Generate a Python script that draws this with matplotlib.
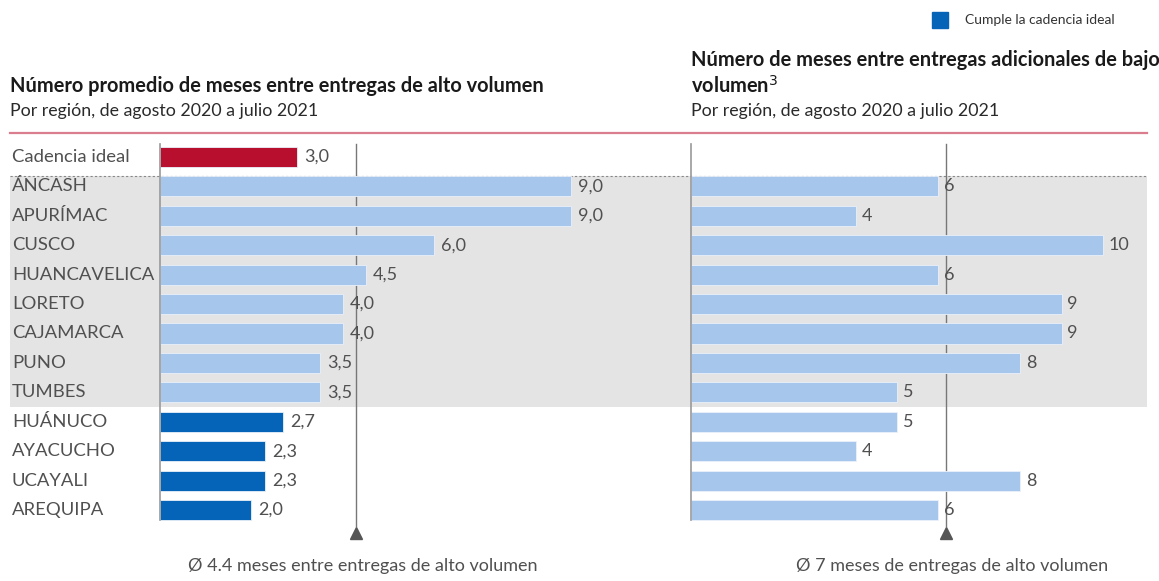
import matplotlib.pyplot as plt
from matplotlib import transforms

plt.rcParams['font.family'] = ['Lato', 'DejaVu Sans']

# data
regions = ["Cadencia ideal", "ÁNCASH", "APURÍMAC", "CUSCO", "HUANCAVELICA", "LORETO",
           "CAJAMARCA", "PUNO", "TUMBES", "HUÁNUCO", "AYACUCHO", "UCAYALI", "AREQUIPA"]
alto_volumen = [3.0, 9.0, 9.0, 6.0, 4.5, 4.0, 4.0, 3.5, 3.5, 2.7, 2.3, 2.3, 2.0]
bajo_volumen = [None, 6, 4, 10, 6, 9, 9, 8, 5, 5, 4, 8, 6]
grupo = ["ideal"] + ["no"] * 8 + ["cumple"] * 4
mean_pos = [4.3, 6.2]   # where the avg line sits in the picture
mean_labels = ["Ø 4.4 meses entre entregas de alto volumen",
               "Ø 7 meses de entregas de alto volumen"]

RED = "#B80F2F"
LIGHT = "#A7C6EB"
DARK = "#0563B8"
GRAY_TXT = "#505050"
BAND = "#E4E4E4"
PINK = "#D97D8F"

colors = {"ideal": RED, "no": LIGHT, "cumple": DARK}

W, H = 1159, 581
fig = plt.figure(figsize=(W / 100, H / 100), dpi=100)

step = (510 - 157) / 12
top_px = 157 - step / 2
bot_px = 510 + step / 2


def make_ax(left_px, scale, xmax):
    ax = fig.add_axes([left_px / W, (H - bot_px) / H, xmax * scale / W, (bot_px - top_px) / H])
    ax.set_xlim(0, xmax)
    ax.set_ylim(12.5, -0.5)
    ax.axis("off")
    ax.patch.set_alpha(0)
    return ax


axL = make_ax(160, 45.67, 12)
axR = make_ax(691, 41.17, 11)

ypos = list(range(len(regions)))

# gray band + dotted line across both panels
blend = transforms.blended_transform_factory(fig.transFigure, axL.transData)
band_top, band_bot = 0.66, 8.5
axL.fill_between([10 / W, 1147 / W], band_bot, band_top, color=BAND, transform=blend,
                 clip_on=False, zorder=0, lw=0)
axL.plot([10 / W, 1147 / W], [band_top, band_top], transform=blend, clip_on=False,
         color="#888888", lw=0.8, ls=(0, (2, 2)), zorder=1)

# left panel
axL.barh(ypos, alto_volumen, height=0.68, color=[colors[g] for g in grupo],
         edgecolor="#EAF1FA", linewidth=0.6, zorder=3)
for y, v in zip(ypos, alto_volumen):
    axL.text(v + 0.15, y, f"{v:.1f}".replace(".", ","), va="center", ha="left",
             fontsize=13, color=GRAY_TXT, zorder=4)
for y, r in zip(ypos, regions):
    axL.text(12 / W, y, r, transform=blend, va="center", ha="left", fontsize=13.3,
             color=GRAY_TXT)

# right panel
ypR = [y for y, v in zip(ypos, bajo_volumen) if v is not None]
vR = [v for v in bajo_volumen if v is not None]
axR.barh(ypR, vR, height=0.68, color=LIGHT, edgecolor="#EAF1FA", linewidth=0.6, zorder=3)
for y, v in zip(ypR, vR):
    axR.text(v + 0.14, y, str(v), va="center", ha="left", fontsize=13, color=GRAY_TXT, zorder=4)

# axis lines, mean lines, triangles, notes
for ax, m, lab in zip([axL, axR], mean_pos, mean_labels):
    ax.plot([0, 0], [-0.45, 12.35], color="#999999", lw=1.2, zorder=5, clip_on=False)
    ax.plot([m, m], [-0.45, 12.55], color="#777777", lw=1.0, zorder=2, clip_on=False)
    ax.plot([m], [12.78], marker="^", ms=8, color="#555555", clip_on=False, zorder=5)
    ax.text(m + 0.15, 13.9, lab, ha="center", va="center", fontsize=13,
            color=GRAY_TXT, clip_on=False)

# pink rule
fig.add_artist(plt.Line2D([10 / W, 1147 / W], [1 - 133 / H, 1 - 133 / H],
                          color=PINK, lw=1.6))

# titles
fig.text(10 / W, 1 - 86 / H, "Número promedio de meses entre entregas de alto volumen",
         fontsize=14.4, fontweight="bold", color="#1a1a1a", va="center")
fig.text(10 / W, 1 - 111 / H, "Por región, de agosto 2020 a julio 2021",
         fontsize=12.8, color="#2a2a2a", va="center")
fig.text(691 / W, 1 - 60 / H, "Número de meses entre entregas adicionales de bajo",
         fontsize=14.4, fontweight="bold", color="#1a1a1a", va="center")
fig.text(691 / W, 1 - 86 / H, "volumen$^{3}$",
         fontsize=14.4, fontweight="bold", color="#1a1a1a", va="center")
fig.text(691 / W, 1 - 111 / H, "Por región, de agosto 2020 a julio 2021",
         fontsize=12.8, color="#2a2a2a", va="center")

# legend
fig.add_artist(plt.Rectangle((932 / W, 1 - 28 / H), 16 / W, 16 / H, color=DARK))
fig.text(965 / W, 1 - 20 / H, "Cumple la cadencia ideal", fontsize=10,
         color="#333333", va="center")

fig.savefig("out.png", dpi=100)
